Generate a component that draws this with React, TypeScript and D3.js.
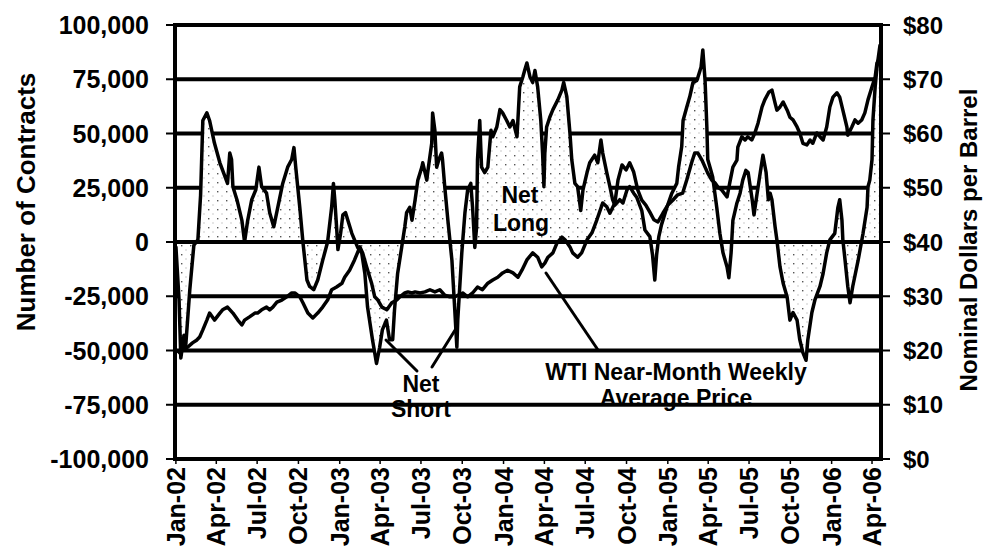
import React from "react";
import * as d3 from "d3";

// ---- Net position (number of contracts) ----
const netDates = [
  "2002-01-01","2002-01-08","2002-01-12","2002-01-19","2002-01-23","2002-02-01","2002-02-10","2002-02-19","2002-02-25","2002-03-02",
  "2002-03-11","2002-03-17","2002-03-28","2002-04-09","2002-04-26","2002-05-01","2002-05-05","2002-05-08","2002-05-17","2002-05-28",
  "2002-06-03","2002-06-10","2002-06-19","2002-06-28","2002-07-05","2002-07-11","2002-07-22","2002-07-29","2002-08-07","2002-08-16",
  "2002-08-27","2002-09-07","2002-09-16","2002-09-21","2002-09-25","2002-10-04","2002-10-11","2002-10-20","2002-10-26","2002-11-04",
  "2002-11-13","2002-11-24","2002-12-05","2002-12-14","2002-12-18","2002-12-21","2002-12-25","2002-12-28","2003-01-03","2003-01-08",
  "2003-01-14","2003-01-28","2003-02-10","2003-02-19","2003-02-26","2003-03-04","2003-03-15","2003-03-24","2003-03-31","2003-04-06",
  "2003-04-15","2003-04-22","2003-04-29","2003-05-03","2003-05-10","2003-05-19","2003-05-26","2003-05-30","2003-06-06","2003-06-11",
  "2003-06-18","2003-06-24","2003-07-03","2003-07-05","2003-07-14","2003-07-16","2003-07-25","2003-07-27","2003-08-01","2003-08-05",
  "2003-08-10","2003-08-16","2003-08-18","2003-08-23","2003-08-30","2003-09-08","2003-09-14","2003-09-19","2003-09-21","2003-09-30",
  "2003-10-07","2003-10-13","2003-10-20","2003-10-24","2003-10-29","2003-11-02","2003-11-04","2003-11-09","2003-11-13","2003-11-20",
  "2003-11-27","2003-12-04","2003-12-08","2003-12-17","2003-12-24","2003-12-30","2004-01-08","2004-01-15","2004-01-22","2004-01-31",
  "2004-02-06","2004-02-13","2004-02-17","2004-02-22","2004-02-29","2004-03-06","2004-03-11","2004-03-17","2004-03-24","2004-03-28",
  "2004-03-31","2004-04-02","2004-04-06","2004-04-13","2004-04-20","2004-05-01","2004-05-10","2004-05-14","2004-05-21","2004-05-28",
  "2004-06-01","2004-06-08","2004-06-14","2004-06-21","2004-06-26","2004-07-05","2004-07-11","2004-07-22","2004-07-29","2004-08-05",
  "2004-08-09","2004-08-18","2004-08-25","2004-08-31","2004-09-05","2004-09-16","2004-09-23","2004-10-02","2004-10-08","2004-10-17",
  "2004-10-24","2004-11-04","2004-11-11","2004-11-22","2004-11-28","2004-12-03","2004-12-07","2004-12-12","2004-12-18","2004-12-30",
  "2005-01-10","2005-01-21","2005-01-25","2005-02-01","2005-02-04","2005-02-12","2005-02-19","2005-02-26","2005-03-07","2005-03-16",
  "2005-03-20","2005-03-25","2005-03-29","2005-03-31","2005-04-05","2005-04-11","2005-04-20","2005-04-27","2005-05-04","2005-05-13",
  "2005-05-17","2005-05-22","2005-05-26","2005-06-04","2005-06-11","2005-06-17","2005-06-24","2005-06-29","2005-07-08","2005-07-12",
  "2005-07-19","2005-07-26","2005-08-01","2005-08-08","2005-08-13","2005-08-17","2005-08-21","2005-08-28","2005-09-01","2005-09-08",
  "2005-09-15","2005-09-24","2005-09-30","2005-10-07","2005-10-16","2005-10-22","2005-10-29","2005-11-05","2005-11-09","2005-11-18",
  "2005-11-25","2005-12-06","2005-12-13","2005-12-21","2005-12-28","2006-01-08","2006-01-15","2006-01-19","2006-01-24","2006-01-26",
  "2006-01-31","2006-02-06","2006-02-11","2006-02-17","2006-03-01","2006-03-12","2006-03-21","2006-03-23","2006-03-27","2006-04-01",
  "2006-04-03","2006-04-08","2006-04-12","2006-04-19"
];
const netValues = [
  -2000,-26500,-53500,-43000,-47500,-22000,-1500,1000,21500,56000,
  59500,56000,45500,36500,27000,41000,38000,25500,19500,10000,
  0,10000,19500,24000,34500,25500,22500,13500,7000,16000,
  27000,34500,38000,43500,34500,16000,0,-17500,-20500,-22000,
  -17500,-8500,0,16000,27000,19500,7000,-3500,4000,12500,
  13500,4000,-2500,-5000,-14500,-30000,-45000,-56000,-48500,-40500,
  -36000,-45000,-45000,-31500,-14500,-2500,7000,13500,16000,10000,
  19500,28500,34500,36500,28500,32000,45500,59500,51500,34500,
  38000,41000,38000,25500,10000,-8500,-30000,-48500,-36000,-5000,
  13500,24000,27000,16000,-2500,7000,38000,56000,34500,32000,
  34500,51500,48500,53000,61000,59500,56000,53000,56000,48500,
  71500,76000,79000,82500,76000,73500,79000,71500,56000,41000,
  25500,41000,53000,57500,61000,65500,70000,73500,67000,50000,
  38000,27000,25500,14500,24000,32000,36500,40000,36500,47000,
  41000,32000,25500,19500,17000,19500,18000,24000,25500,22500,
  20500,14500,5500,2500,-6000,-17500,-6000,2500,8000,16000,
  22500,27000,34500,44000,56000,62000,67000,73500,74500,80500,
  88500,74500,53000,38000,34500,30000,16000,4000,-5000,-11500,
  -16500,-5000,10000,18000,22500,28500,33000,32000,19500,12500,
  22500,32000,40000,32000,19500,22500,19500,7000,1000,-11500,
  -19000,-25500,-36000,-32500,-36000,-45000,-51000,-54500,-45000,-32500,
  -26500,-20500,-14500,-5000,1000,4000,16000,19500,10000,1000,
  -8500,-20500,-28000,-20500,-8500,4000,16000,25500,28500,38000,
  56000,71500,80500,91000
];

// ---- WTI near-month weekly average price ($/barrel) ----
const priceDates = [
  "2002-01-05","2002-01-16","2002-01-27","2002-02-07","2002-02-16","2002-02-23","2002-03-02","2002-03-11","2002-03-17","2002-03-28",
  "2002-04-09","2002-04-15","2002-04-26","2002-05-08","2002-05-19","2002-05-28","2002-06-03","2002-06-14","2002-06-26","2002-07-02",
  "2002-07-11","2002-07-22","2002-07-29","2002-08-05","2002-08-14","2002-08-25","2002-09-05","2002-09-16","2002-09-23","2002-10-04",
  "2002-10-11","2002-10-22","2002-11-02","2002-11-13","2002-11-24","2002-12-05","2002-12-14","2002-12-25","2003-01-06","2003-01-12",
  "2003-01-23","2003-02-03","2003-02-15","2003-02-21","2003-03-02","2003-03-13","2003-03-20","2003-03-27","2003-04-05","2003-04-16",
  "2003-04-27","2003-05-08","2003-05-15","2003-05-26","2003-06-02","2003-06-11","2003-06-18","2003-06-29","2003-07-10","2003-07-21",
  "2003-08-01","2003-08-12","2003-08-23","2003-09-03","2003-09-14","2003-10-02","2003-10-13","2003-10-24","2003-11-04","2003-11-15",
  "2003-11-27","2003-12-08","2003-12-19","2003-12-30","2004-01-10","2004-01-22","2004-02-02","2004-02-11","2004-02-22","2004-03-06",
  "2004-03-17","2004-03-26","2004-04-02","2004-04-09","2004-04-20","2004-04-29","2004-05-10","2004-05-17","2004-05-28","2004-06-03",
  "2004-06-14","2004-06-23","2004-07-05","2004-07-16","2004-07-27","2004-08-09","2004-08-18","2004-08-25","2004-09-05","2004-09-12",
  "2004-09-21","2004-09-30","2004-10-08","2004-10-17","2004-10-26","2004-11-04","2004-11-13","2004-11-22","2004-12-01","2004-12-10",
  "2004-12-21","2005-01-01","2005-01-12","2005-01-23","2005-02-03","2005-02-12","2005-02-23","2005-03-02","2005-03-09","2005-03-18",
  "2005-03-25","2005-03-31","2005-04-09","2005-04-16","2005-04-23","2005-05-01","2005-05-13","2005-05-19","2005-05-26","2005-06-04",
  "2005-06-06","2005-06-15","2005-06-22","2005-06-28","2005-07-07","2005-07-14","2005-07-21","2005-07-30","2005-08-05","2005-08-14",
  "2005-08-21","2005-08-28","2005-09-01","2005-09-08","2005-09-15","2005-09-24","2005-09-30","2005-10-07","2005-10-16","2005-10-22",
  "2005-10-29","2005-11-07","2005-11-14","2005-11-20","2005-11-29","2005-12-06","2005-12-13","2005-12-21","2005-12-28","2006-01-04",
  "2006-01-13","2006-01-19","2006-01-26","2006-02-04","2006-02-06","2006-02-15","2006-02-22","2006-03-01","2006-03-09","2006-03-16",
  "2006-03-23","2006-04-01","2006-04-08","2006-04-12","2006-04-19"
];
const priceValues = [
  19.5,20.5,20.6,21.4,21.9,22.5,23.8,25.6,26.9,25.6,
  26.9,27.5,28.0,26.9,25.6,24.7,25.6,26.2,26.9,26.9,
  27.5,28.0,27.5,28.0,28.9,29.3,29.9,30.6,30.6,29.9,
  28.8,26.9,26.0,26.9,28.0,29.3,31.2,31.7,32.4,33.5,
  34.8,36.7,39.1,38.0,35.4,32.4,29.9,29.3,28.0,27.5,
  28.8,29.3,29.9,30.6,30.8,30.6,30.8,30.6,30.8,31.2,
  30.8,31.2,30.2,29.9,29.9,30.6,29.9,30.6,31.7,31.2,
  32.4,33.0,33.5,34.3,34.8,34.3,33.5,34.8,36.7,38.0,
  37.2,35.4,36.1,37.2,38.0,39.8,40.9,40.4,39.1,38.0,
  37.2,38.0,40.4,41.7,44.1,47.2,46.5,45.3,47.2,51.4,
  54.2,53.3,54.6,52.9,49.6,47.7,46.8,45.5,44.1,43.7,
  45.3,46.8,47.7,48.7,49.0,51.4,54.6,56.4,56.4,55.1,
  53.8,52.7,51.4,50.9,50.1,49.6,48.3,50.9,53.8,55.1,
  57.5,59.4,58.8,59.4,58.8,60.1,61.9,64.9,66.2,67.6,
  68.0,65.6,64.3,64.9,65.8,64.3,63.0,62.5,61.2,60.1,
  58.2,57.9,58.8,58.2,60.1,59.4,58.8,61.2,64.9,66.7,
  67.5,66.7,64.3,61.2,59.7,61.2,62.5,61.9,62.5,63.8,
  66.2,68.6,70.4,73.0,74.1
];

// ---- Axes ----
const contractTicks = [100000, 75000, 50000, 25000, 0, -25000, -50000, -75000, -100000];
const priceTicks = [80, 70, 60, 50, 40, 30, 20, 10, 0];
const quarterDates = [
  "2002-01-01","2002-04-01","2002-07-01","2002-10-01","2003-01-01","2003-04-01","2003-07-01","2003-10-01","2004-01-01",
  "2004-04-01","2004-07-01","2004-10-01","2005-01-01","2005-04-01","2005-07-01","2005-10-01","2006-01-01","2006-04-01"
];
const quarterLabels = [
  "Jan-02","Apr-02","Jul-02","Oct-02","Jan-03","Apr-03","Jul-03","Oct-03","Jan-04",
  "Apr-04","Jul-04","Oct-04","Jan-05","Apr-05","Jul-05","Oct-05","Jan-06","Apr-06"
];
const leftTitle = "Number of Contracts";
const rightTitle = "Nominal Dollars per Barrel";

const FONT = "'Liberation Sans', Arial, Helvetica, sans-serif";

export default function App() {
  const W = 986, H = 557;
  const L = 175, R = 881, T = 25, B = 459;
  const parse = d3.timeParse("%Y-%m-%d");
  const x = d3.scaleTime()
    .domain([new Date(2001, 11, 30), new Date(2006, 3, 21)])
    .range([L, R]);
  const yL = d3.scaleLinear().domain([-100000, 100000]).range([B, T]);
  const yR = d3.scaleLinear().domain([0, 80]).range([B, T]);
  const fmt0 = d3.format(",");
  const fmt = (v: number) => fmt0(v).replace("\u2212", "-");

  const net = netDates.map((d, i) => ({ date: parse(d) as Date, v: netValues[i] }));
  const price = priceDates.map((d, i) => ({ date: parse(d) as Date, v: priceValues[i] }));

  const areaGen = d3.area<{ date: Date; v: number }>()
    .x((d) => x(d.date))
    .y0(yL(0))
    .y1((d) => yL(d.v));
  const netLine = d3.line<{ date: Date; v: number }>()
    .x((d) => x(d.date))
    .y((d) => yL(d.v));
  const priceLine = d3.line<{ date: Date; v: number }>()
    .x((d) => x(d.date))
    .y((d) => yR(d.v));

  return (
    <div style={{ position: "absolute", left: 0, top: 0, width: W, height: H, background: "#fff" }}>
      <svg width={W} height={H} style={{ display: "block" }} fontFamily={FONT}>
        <defs>
          <pattern id="stip" width="9" height="9" patternUnits="userSpaceOnUse">
            <rect width="9" height="9" fill="#fff" />
            <rect x="1" y="2" width="1.4" height="1.4" fill="#555" />
            <rect x="5.5" y="6.5" width="1" height="1" fill="#999" />
          </pattern>
        </defs>
        <rect x={0} y={0} width={W} height={H} fill="#fff" />

        {/* annotation texts that sit under the gridlines */}
        <g fontWeight="bold" fontSize={23} fill="#000" textAnchor="middle">
          <text x={421} y={392}>Net</text>
          <text x={421} y={417}>Short</text>
          <text x={676} y={380}>WTI Near-Month Weekly</text>
          <text x={676} y={406}>Average Price</text>
        </g>

        {/* gridlines (except zero) */}
        {contractTicks.filter((t) => t !== 0).map((t) => (
          <line key={"g" + t} x1={L} x2={R} y1={yL(t)} y2={yL(t)} stroke="#000" strokeWidth={4} />
        ))}

        {/* net area */}
        <path d={areaGen(net) || ""} fill="url(#stip)" stroke="none" />

        <g fontWeight="bold" fontSize={23} fill="#000" textAnchor="middle">
          <text x={520} y={203}>Net</text>
          <text x={521} y={231}>Long</text>
        </g>

        {/* zero line */}
        <line x1={L} x2={R} y1={yL(0)} y2={yL(0)} stroke="#000" strokeWidth={4} />

        {/* pointer lines */}
        <g stroke="#000" strokeWidth={3} strokeLinecap="round">
          <line x1={546} y1={273} x2={598} y2={350} />
          <line x1={386} y1={340} x2={417} y2={371} />
          <line x1={457} y1={327} x2={432} y2={367} />
        </g>

        {/* data lines */}
        <path d={priceLine(price) || ""} fill="none" stroke="#000" strokeWidth={3.5} strokeLinejoin="round" />
        <path d={netLine(net) || ""} fill="none" stroke="#000" strokeWidth={3.5} strokeLinejoin="round" />

        {/* axis frame */}
        <line x1={L} x2={L} y1={T - 2} y2={B + 2} stroke="#000" strokeWidth={4} />
        <line x1={R} x2={R} y1={T - 2} y2={B + 2} stroke="#000" strokeWidth={4} />

        {/* left ticks + labels */}
        {contractTicks.map((t) => (
          <g key={"l" + t}>
            <line x1={166} x2={L} y1={yL(t)} y2={yL(t)} stroke="#000" strokeWidth={2} />
            <text x={149} y={yL(t)} dy="0.36em" textAnchor="end" fontSize={25} fontWeight="bold">
              {fmt(t)}
            </text>
          </g>
        ))}

        {/* right ticks + labels */}
        {priceTicks.map((t) => (
          <g key={"r" + t}>
            <line x1={R} x2={890} y1={yR(t)} y2={yR(t)} stroke="#000" strokeWidth={2} />
            <text x={903} y={yR(t)} dy="0.36em" textAnchor="start" fontSize={24} fontWeight="bold">
              {"$" + t}
            </text>
          </g>
        ))}

        {/* bottom ticks + labels */}
        {quarterDates.map((d, i) => {
          const xx = x(parse(d) as Date);
          return (
            <g key={"q" + d}>
              <line x1={xx} x2={xx} y1={B} y2={B + 5} stroke="#000" strokeWidth={1.5} />
              <text
                transform={`translate(${xx},467) rotate(-90)`}
                dy="0.36em"
                textAnchor="end"
                fontSize={25}
                fontWeight="bold"
              >
                {quarterLabels[i]}
              </text>
            </g>
          );
        })}

        {/* axis titles */}
        <text transform="translate(35,202) rotate(-90)" textAnchor="middle" fontSize={26} fontWeight="bold">
          {leftTitle}
        </text>
        <text transform="translate(977,240) rotate(-90)" textAnchor="middle" fontSize={24} fontWeight="bold">
          {rightTitle}
        </text>
      </svg>
    </div>
  );
}
